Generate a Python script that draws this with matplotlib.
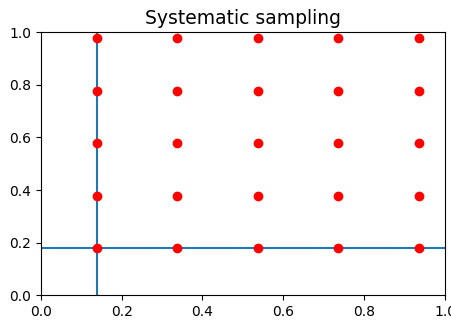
import matplotlib
matplotlib.use("Agg")
import matplotlib.pyplot as plt
import numpy as np

# sample positions
x_vals = [0.138, 0.337, 0.537, 0.736, 0.936]
y_vals = [0.180, 0.379, 0.578, 0.777, 0.979]
x_start = 0.138
y_start = 0.180

fig, ax = plt.subplots(figsize=(4.52, 3.2), dpi=100)
fig.subplots_adjust(left=0.09, right=0.985, bottom=0.077, top=0.9)

xx, yy = np.meshgrid(x_vals, y_vals)
ax.axvline(x_start)
ax.axhline(y_start)
ax.plot(xx.ravel(), yy.ravel(), 'ro')

ax.set_xlim(0, 1)
ax.set_ylim(0, 1)
ax.set_title('Systematic sampling', fontsize=13.5)

plt.savefig('out.png')
